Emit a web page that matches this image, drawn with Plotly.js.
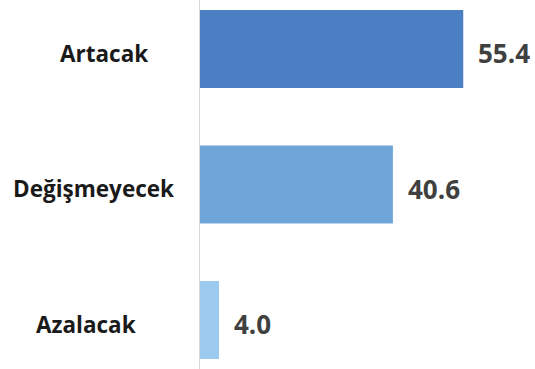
<!DOCTYPE html>
<html><head><meta charset="utf-8">
<script src="https://cdn.plot.ly/plotly-3.0.1.min.js"></script>
<style>html,body{margin:0;padding:0;background:#fff}#chart{width:535px;height:369px}</style>
</head><body><div id="chart"></div>
<script>
var categories = ["Artacak", "Değişmeyecek", "Azalacak"];
var values = [55.4, 40.6, 4.0];
var valueLabels = ["55.4", "40.6", "4.0"];
var colors = ["#4a7fc3", "#6fa6d9", "#9ccaef"];

var trace = {
  type: "bar", orientation: "h",
  x: values, y: categories,
  marker: {color: colors, line: {width: 0}},
  hoverinfo: "none"
};
var catFont = {family: "Open Sans, sans-serif", size: 22.5, color: "#1a1a1a"};
var valFont = {family: "Open Sans, sans-serif", size: 26, color: "#404040"};
var catShift = [10, -1, -8];
var annotations = [];
categories.forEach(function(c, i){
  annotations.push({xref: "paper", x: -0.315, y: c, yref: "y", text: "<b>" + c + "</b>",
    showarrow: false, xanchor: "center", yanchor: "middle", xshift: catShift[i], yshift: -4, font: catFont});
  annotations.push({xref: "x", x: values[i], y: c, yref: "y", text: "<b>" + valueLabels[i] + "</b>",
    showarrow: false, xanchor: "left", yanchor: "middle", xshift: 13, yshift: -4, font: valFont});
});
var layout = {
  width: 535, height: 369,
  margin: {l: 200, r: 0, t: 0, b: 0},
  paper_bgcolor: "#fff", plot_bgcolor: "#fff",
  showlegend: false,
  bargap: 0.424,
  xaxis: {range: [0, 70.5], showgrid: false, zeroline: false, showticklabels: false, showline: false},
  yaxis: {type: "category", range: [2.3616, -0.3616], showgrid: false, zeroline: false,
    showticklabels: false, showline: true, linecolor: "#d9d9d9", linewidth: 1},
  annotations: annotations
};
Plotly.newPlot("chart", [trace], layout, {staticPlot: true, displayModeBar: false});
</script></body></html>
